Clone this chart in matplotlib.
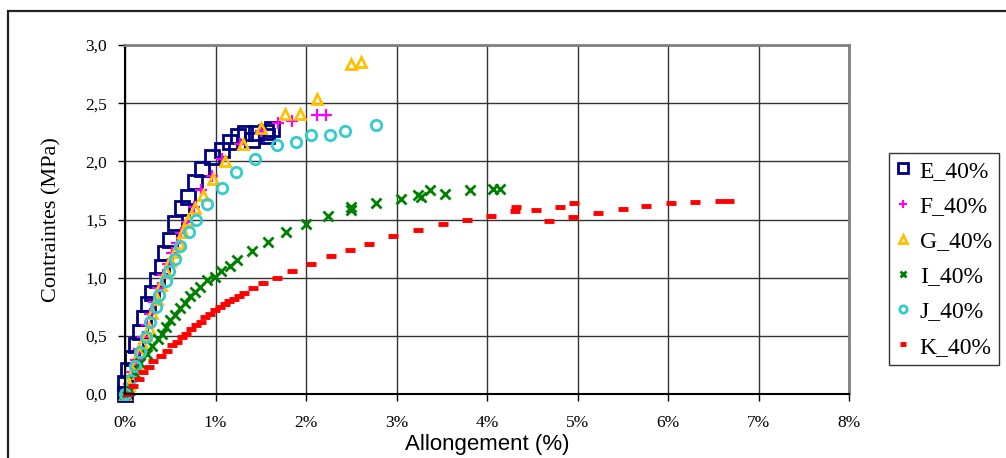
import matplotlib
matplotlib.use("Agg")
import matplotlib.pyplot as plt
import matplotlib.ticker as ticker
from matplotlib.patches import Rectangle

# strain (%) / stress (MPa)
e_x = [0, 0, 0.035, 0.075, 0.12, 0.165, 0.21, 0.25, 0.30, 0.35, 0.41, 0.44, 0.50, 0.55,
       0.63, 0.70, 0.77, 0.85, 0.96, 1.07, 1.16, 1.25, 1.33, 1.40, 1.45, 1.56, 1.57, 1.62]
e_y = [0, 0.095, 0.21, 0.31, 0.42, 0.53, 0.65, 0.77, 0.87, 0.98, 1.09, 1.21, 1.32, 1.47,
       1.60, 1.69, 1.82, 1.93, 2.04, 2.10, 2.17, 2.22, 2.24, 2.18, 2.24, 2.25, 2.22, 2.28]

f_x = [0, 0.04, 0.08, 0.12, 0.16, 0.20, 0.24, 0.28, 0.32, 0.37, 0.42, 0.47, 0.52, 0.57,
       0.62, 0.68, 0.76, 0.84, 0.96, 1.07, 1.27, 1.50, 1.69, 1.84, 2.12, 2.22]
f_y = [0, 0.09, 0.19, 0.29, 0.39, 0.49, 0.59, 0.69, 0.79, 0.91, 1.02, 1.12, 1.21, 1.30,
       1.38, 1.48, 1.61, 1.75, 1.87, 2.02, 2.15, 2.26, 2.33, 2.35, 2.40, 2.40]

g_x = [0, 0.04, 0.08, 0.12, 0.16, 0.19, 0.23, 0.26, 0.30, 0.35, 0.40, 0.45, 0.50, 0.55,
       0.60, 0.64, 0.70, 0.77, 0.86, 0.97, 1.11, 1.30, 1.50, 1.77, 1.93, 2.12, 2.50, 2.61]
g_y = [0, 0.08, 0.18, 0.27, 0.36, 0.44, 0.51, 0.57, 0.70, 0.82, 0.94, 1.05, 1.14, 1.22,
       1.30, 1.39, 1.50, 1.60, 1.71, 1.85, 2.00, 2.15, 2.29, 2.41, 2.41, 2.54, 2.84, 2.85]

i_x = [0, 0.05, 0.11, 0.17, 0.24, 0.30, 0.36, 0.41, 0.45, 0.50, 0.55, 0.61, 0.66, 0.72,
       0.77, 0.83, 0.91, 0.99, 1.06, 1.16, 1.24, 1.40, 1.58, 1.78, 2.00, 2.24, 2.50, 2.50,
       2.77, 3.05, 3.24, 3.27, 3.37, 3.54, 3.81, 4.07, 4.14]
i_y = [0, 0.035, 0.18, 0.27, 0.34, 0.41, 0.47, 0.52, 0.58, 0.64, 0.68, 0.74, 0.78, 0.84,
       0.88, 0.92, 0.98, 1.01, 1.06, 1.10, 1.15, 1.23, 1.31, 1.39, 1.46, 1.53, 1.58, 1.61,
       1.64, 1.68, 1.71, 1.69, 1.75, 1.72, 1.75, 1.76, 1.76]

j_x = [0, 0.06, 0.11, 0.17, 0.23, 0.28, 0.34, 0.38, 0.45, 0.49, 0.55, 0.61, 0.71, 0.79,
       0.91, 1.07, 1.23, 1.44, 1.68, 1.89, 2.05, 2.26, 2.43, 2.77]
j_y = [0, 0.12, 0.24, 0.36, 0.49, 0.62, 0.75, 0.85, 0.97, 1.06, 1.16, 1.27, 1.39, 1.50,
       1.63, 1.77, 1.91, 2.02, 2.14, 2.17, 2.23, 2.23, 2.26, 2.31]

k_x = [0.03, 0.09, 0.15, 0.20, 0.26, 0.31, 0.40, 0.46, 0.52, 0.57, 0.63, 0.67, 0.73, 0.78,
       0.84, 0.88, 0.94, 0.99, 1.05, 1.10, 1.15, 1.20, 1.26, 1.31, 1.41, 1.52, 1.68, 1.84,
       2.06, 2.28, 2.49, 2.70, 2.96, 3.24, 3.51, 3.78, 4.04, 4.31, 4.32, 4.54, 4.69, 4.81,
       4.95, 4.96, 5.23, 5.50, 5.76, 6.03, 6.30, 6.57, 6.67]
k_y = [0.0, 0.07, 0.13, 0.19, 0.23, 0.28, 0.33, 0.37, 0.42, 0.45, 0.49, 0.52, 0.56, 0.59,
       0.62, 0.66, 0.69, 0.72, 0.75, 0.77, 0.80, 0.82, 0.84, 0.87, 0.91, 0.95, 1.00, 1.06,
       1.12, 1.19, 1.24, 1.29, 1.36, 1.41, 1.46, 1.50, 1.53, 1.57, 1.61, 1.58, 1.49, 1.61,
       1.52, 1.64, 1.56, 1.59, 1.62, 1.64, 1.65, 1.66, 1.66]

serif = "Liberation Serif"
sans = "Liberation Sans"

fig = plt.figure(figsize=(10.06, 4.58), dpi=100)
fig.patches.append(Rectangle((8 / 1006, -0.1), 1.2, 1 - 11 / 458 + 0.1, transform=fig.transFigure,
                             fill=False, edgecolor="#222222", linewidth=1.6))

ax = fig.add_axes([125 / 1006, 1 - 394 / 458, 724 / 1006, 349 / 458])

ax.plot(e_x, e_y, ls="none", marker="s", ms=9.5, mfc="none", mec="#000080", mew=2, label="E_40%", clip_on=False)
ax.plot(f_x, f_y, ls="none", marker="+", ms=8, color="#FF00FF", mew=1.6, label="F_40%", clip_on=False)
ax.plot(g_x, g_y, ls="none", marker="^", ms=7.5, mfc="none", mec="#FFC000", mew=2, label="G_40%", clip_on=False)
ax.plot(i_x, i_y, ls="none", marker="x", ms=7, color="#008000", mew=2, label="I_40%", clip_on=False)
ax.plot(j_x, j_y, ls="none", marker="o", ms=7.5, mfc="none", mec="#33CCCC", mew=2, label="J_40%", clip_on=False)
ax.plot(k_x, k_y, ls="none", marker="_", ms=7, color="#FF0000", mew=3.5, label="K_40%", clip_on=False)

ax.set_xlim(0, 8)
ax.set_ylim(0, 3)
ax.xaxis.set_major_locator(ticker.MultipleLocator(1))
ax.yaxis.set_major_locator(ticker.MultipleLocator(0.5))
ax.xaxis.set_major_formatter(ticker.FuncFormatter(lambda v, p: "%d%%" % round(v)))
ax.yaxis.set_major_formatter(ticker.FuncFormatter(lambda v, p: ("%.1f" % v).replace(".", ",")))
ax.grid(True, color="#333333", linewidth=1)
ax.set_axisbelow(True)
ax.tick_params(direction="out", length=5, width=1, color="black", pad=8)
for lab in ax.get_xticklabels() + ax.get_yticklabels():
    lab.set_fontfamily(serif)
    lab.set_fontsize(12.5)
ax.tick_params(axis="x", pad=10)

ax.spines["left"].set_color("black")
ax.spines["bottom"].set_color("black")
ax.spines["left"].set_linewidth(1.5)
ax.spines["bottom"].set_linewidth(1.5)
ax.spines["top"].set_color("#808080")
ax.spines["right"].set_color("#808080")
ax.spines["top"].set_linewidth(2)
ax.spines["right"].set_linewidth(2)

ax.set_xlabel("Allongement (%)", family=sans, fontsize=16, labelpad=2)
ax.set_ylabel("Contraintes (MPa)", family=serif, fontsize=16, labelpad=17)

leg = fig.legend(loc="upper left", bbox_to_anchor=(889 / 1006, 1 - 153 / 458),
                 prop={"family": serif, "size": 17}, frameon=True, fancybox=False,
                 edgecolor="black", markerscale=0.7, handlelength=0.6, handletextpad=0.4,
                 labelspacing=0.58, borderpad=0.3, borderaxespad=0)
leg.get_frame().set_linewidth(1)

fig.savefig("out.png", dpi=100)
